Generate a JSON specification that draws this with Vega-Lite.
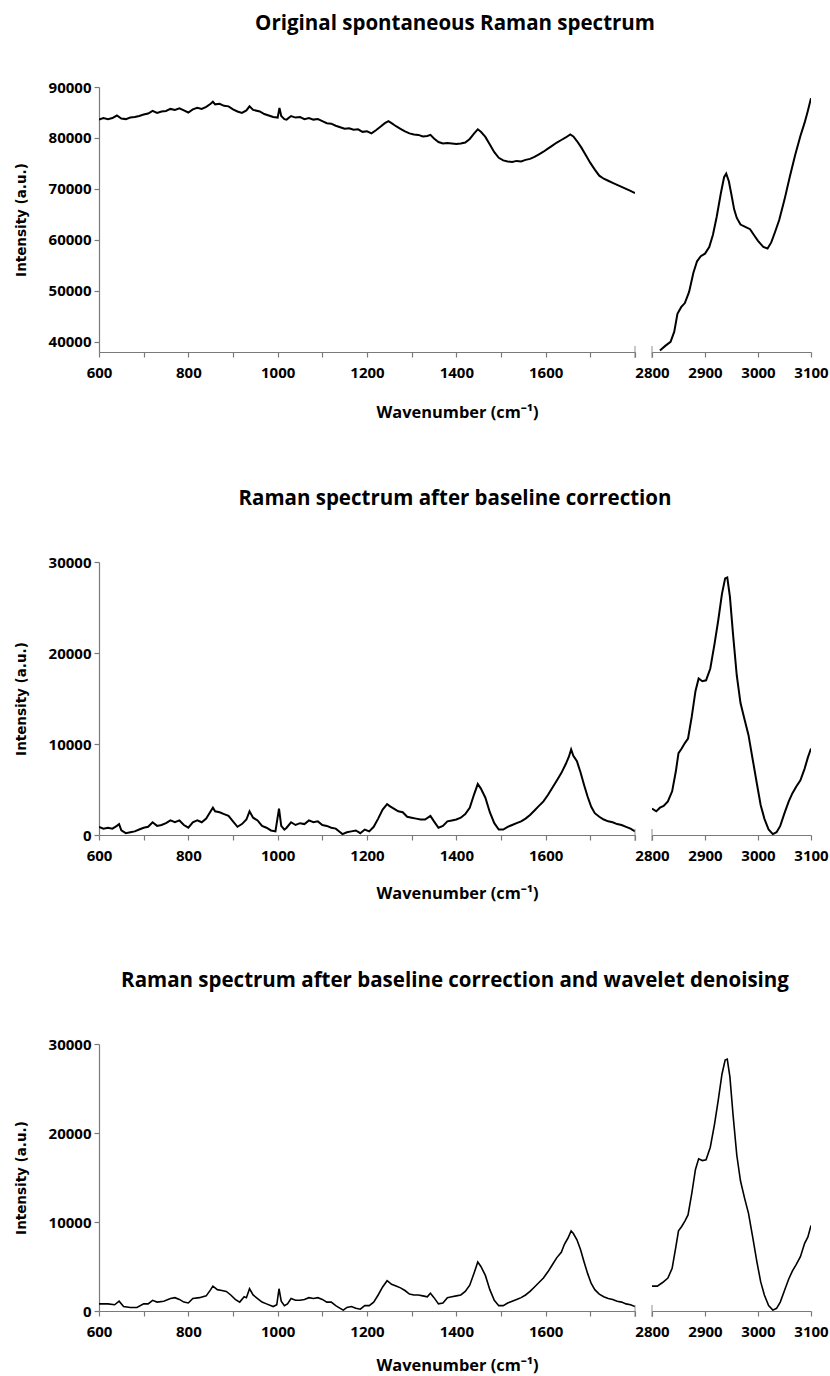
{
  "$schema": "https://vega.github.io/schema/vega-lite/v6.json",
  "padding": {"top": 13, "left": 14, "right": 0, "bottom": 0},
  "background": "white",
  "config": {
    "view": {"stroke": null},
    "font": "Open Sans",
    "axis": {"domainColor": "#7a7a7a", "tickColor": "#7a7a7a", "domainWidth": 1.2, "tickWidth": 1.2, "tickSize": 5, "labelFont": "Open Sans", "labelFontWeight": "bold", "labelFontSize": 15, "labelColor": "black", "grid": false, "titleColor": "black", "labelOverlap": false, "labelFlush": false},
    "axisX": {"titleFont": "Open Sans", "titleFontSize": 16.4, "titleFontWeight": "bold", "labelPadding": 8},
    "axisY": {"titleFont": "DejaVu Sans", "titleFontSize": 13.5, "titleFontWeight": "bold", "labelPadding": 3},
    "title": {"font": "Open Sans", "fontSize": 20.5, "fontWeight": "bold", "color": "black", "anchor": "middle", "frame": "group", "dx": 88, "offset": 46}
  },
  "datasets": {
    "p1L": [
      {"x":600,"y":83600},{"x":610,"y":83900},{"x":620,"y":83700},{"x":630,"y":83900},{"x":640,"y":84400},{"x":650,"y":83800},{"x":660,"y":83700},{"x":670,"y":84000},{"x":680,"y":84100},{"x":690,"y":84300},{"x":700,"y":84600},{"x":710,"y":84800},{"x":720,"y":85300},{"x":730,"y":84900},{"x":740,"y":85200},{"x":750,"y":85300},{"x":760,"y":85700},{"x":770,"y":85500},{"x":780,"y":85800},{"x":790,"y":85400},{"x":800,"y":85000},{"x":810,"y":85600},{"x":820,"y":85900},{"x":830,"y":85700},{"x":840,"y":86100},{"x":850,"y":86700},{"x":855,"y":87100},{"x":860,"y":86600},{"x":870,"y":86700},{"x":880,"y":86300},{"x":890,"y":86200},{"x":900,"y":85600},{"x":910,"y":85200},{"x":920,"y":84900},{"x":930,"y":85400},{"x":937,"y":86200},{"x":945,"y":85500},{"x":960,"y":85200},{"x":970,"y":84700},{"x":980,"y":84400},{"x":990,"y":84100},{"x":1000,"y":84000},{"x":1004,"y":85900},{"x":1008,"y":84300},{"x":1015,"y":83700},{"x":1020,"y":83600},{"x":1030,"y":84300},{"x":1040,"y":84000},{"x":1050,"y":84100},{"x":1060,"y":83700},{"x":1070,"y":83900},{"x":1080,"y":83600},{"x":1090,"y":83700},{"x":1100,"y":83300},{"x":1110,"y":82900},{"x":1120,"y":82800},{"x":1130,"y":82400},{"x":1140,"y":82100},{"x":1150,"y":81800},{"x":1160,"y":81900},{"x":1170,"y":81600},{"x":1180,"y":81700},{"x":1190,"y":81200},{"x":1200,"y":81300},{"x":1210,"y":80900},{"x":1220,"y":81500},{"x":1230,"y":82200},{"x":1240,"y":82900},{"x":1248,"y":83300},{"x":1255,"y":82900},{"x":1265,"y":82300},{"x":1275,"y":81800},{"x":1285,"y":81300},{"x":1295,"y":80900},{"x":1305,"y":80700},{"x":1315,"y":80600},{"x":1325,"y":80300},{"x":1335,"y":80400},{"x":1342,"y":80600},{"x":1350,"y":79900},{"x":1360,"y":79200},{"x":1370,"y":78900},{"x":1380,"y":79000},{"x":1390,"y":78900},{"x":1400,"y":78800},{"x":1410,"y":78900},{"x":1420,"y":79100},{"x":1430,"y":79800},{"x":1440,"y":80900},{"x":1448,"y":81700},{"x":1455,"y":81200},{"x":1465,"y":80200},{"x":1475,"y":78700},{"x":1485,"y":77200},{"x":1495,"y":76100},{"x":1505,"y":75600},{"x":1515,"y":75400},{"x":1525,"y":75300},{"x":1535,"y":75500},{"x":1545,"y":75400},{"x":1555,"y":75700},{"x":1565,"y":75900},{"x":1575,"y":76300},{"x":1585,"y":76800},{"x":1595,"y":77300},{"x":1605,"y":77900},{"x":1615,"y":78500},{"x":1625,"y":79100},{"x":1635,"y":79600},{"x":1645,"y":80100},{"x":1655,"y":80700},{"x":1662,"y":80300},{"x":1670,"y":79400},{"x":1680,"y":78100},{"x":1690,"y":76600},{"x":1700,"y":75100},{"x":1710,"y":73800},{"x":1720,"y":72600},{"x":1730,"y":72000},{"x":1740,"y":71600},{"x":1750,"y":71200},{"x":1760,"y":70800},{"x":1770,"y":70400},{"x":1780,"y":70000},{"x":1790,"y":69600},{"x":1800,"y":69200}
    ],
    "p1R": [
      {"x":2815,"y":38300},{"x":2825,"y":39200},{"x":2835,"y":40000},{"x":2842,"y":42000},{"x":2848,"y":45500},{"x":2855,"y":46800},{"x":2862,"y":47600},{"x":2870,"y":49800},{"x":2878,"y":53500},{"x":2885,"y":55800},{"x":2892,"y":56800},{"x":2900,"y":57300},{"x":2908,"y":58600},{"x":2915,"y":61000},{"x":2922,"y":64500},{"x":2930,"y":69200},{"x":2936,"y":72300},{"x":2940,"y":73000},{"x":2945,"y":71500},{"x":2950,"y":68800},{"x":2955,"y":66000},{"x":2960,"y":64300},{"x":2967,"y":63000},{"x":2975,"y":62600},{"x":2985,"y":62100},{"x":2992,"y":61000},{"x":3000,"y":59800},{"x":3010,"y":58600},{"x":3018,"y":58300},{"x":3025,"y":59500},{"x":3032,"y":61500},{"x":3040,"y":63900},{"x":3050,"y":67900},{"x":3060,"y":72400},{"x":3070,"y":76600},{"x":3080,"y":80400},{"x":3088,"y":83000},{"x":3094,"y":85300},{"x":3100,"y":87800}
    ],
    "p2L": [
      {"x":600,"y":900},{"x":610,"y":700},{"x":620,"y":800},{"x":630,"y":700},{"x":640,"y":1000},{"x":645,"y":1200},{"x":650,"y":500},{"x":660,"y":200},{"x":670,"y":300},{"x":680,"y":400},{"x":690,"y":600},{"x":700,"y":800},{"x":710,"y":900},{"x":720,"y":1400},{"x":730,"y":1000},{"x":740,"y":1100},{"x":750,"y":1300},{"x":760,"y":1600},{"x":770,"y":1400},{"x":780,"y":1600},{"x":790,"y":1100},{"x":800,"y":800},{"x":810,"y":1400},{"x":820,"y":1600},{"x":830,"y":1400},{"x":840,"y":1800},{"x":850,"y":2600},{"x":855,"y":3000},{"x":860,"y":2600},{"x":870,"y":2500},{"x":880,"y":2300},{"x":890,"y":2100},{"x":900,"y":1500},{"x":910,"y":900},{"x":920,"y":1200},{"x":930,"y":1700},{"x":937,"y":2600},{"x":945,"y":1900},{"x":955,"y":1600},{"x":965,"y":1000},{"x":975,"y":800},{"x":985,"y":500},{"x":995,"y":400},{"x":1003,"y":2900},{"x":1008,"y":1000},{"x":1015,"y":600},{"x":1020,"y":800},{"x":1030,"y":1400},{"x":1040,"y":1100},{"x":1050,"y":1300},{"x":1060,"y":1200},{"x":1070,"y":1600},{"x":1080,"y":1400},{"x":1090,"y":1500},{"x":1100,"y":1100},{"x":1110,"y":1000},{"x":1120,"y":800},{"x":1130,"y":700},{"x":1140,"y":300},{"x":1145,"y":100},{"x":1155,"y":300},{"x":1165,"y":400},{"x":1175,"y":500},{"x":1185,"y":200},{"x":1195,"y":600},{"x":1205,"y":400},{"x":1215,"y":900},{"x":1225,"y":1800},{"x":1235,"y":2800},{"x":1245,"y":3400},{"x":1250,"y":3200},{"x":1260,"y":2900},{"x":1270,"y":2600},{"x":1280,"y":2500},{"x":1290,"y":2000},{"x":1300,"y":1900},{"x":1310,"y":1800},{"x":1320,"y":1700},{"x":1330,"y":1700},{"x":1342,"y":2100},{"x":1350,"y":1500},{"x":1360,"y":800},{"x":1370,"y":1000},{"x":1380,"y":1500},{"x":1390,"y":1600},{"x":1400,"y":1700},{"x":1410,"y":1900},{"x":1420,"y":2300},{"x":1430,"y":3000},{"x":1440,"y":4500},{"x":1448,"y":5600},{"x":1455,"y":5100},{"x":1465,"y":4100},{"x":1475,"y":2500},{"x":1485,"y":1300},{"x":1495,"y":600},{"x":1505,"y":600},{"x":1515,"y":900},{"x":1525,"y":1100},{"x":1535,"y":1300},{"x":1545,"y":1500},{"x":1555,"y":1800},{"x":1565,"y":2200},{"x":1575,"y":2700},{"x":1585,"y":3200},{"x":1595,"y":3700},{"x":1605,"y":4400},{"x":1615,"y":5200},{"x":1625,"y":6000},{"x":1635,"y":6800},{"x":1645,"y":7800},{"x":1652,"y":8600},{"x":1657,"y":9400},{"x":1662,"y":8700},{"x":1670,"y":8100},{"x":1678,"y":6900},{"x":1686,"y":5500},{"x":1694,"y":4200},{"x":1702,"y":3100},{"x":1710,"y":2400},{"x":1720,"y":2000},{"x":1730,"y":1700},{"x":1740,"y":1500},{"x":1750,"y":1400},{"x":1760,"y":1200},{"x":1770,"y":1100},{"x":1780,"y":900},{"x":1790,"y":700},{"x":1800,"y":400}
    ],
    "p2R": [
      {"x":2800,"y":2900},{"x":2808,"y":2600},{"x":2815,"y":3000},{"x":2822,"y":3200},{"x":2830,"y":3700},{"x":2838,"y":4800},{"x":2845,"y":7000},{"x":2850,"y":9000},{"x":2856,"y":9500},{"x":2862,"y":10100},{"x":2868,"y":10600},{"x":2875,"y":13000},{"x":2882,"y":15800},{"x":2888,"y":17200},{"x":2895,"y":16900},{"x":2902,"y":17000},{"x":2910,"y":18300},{"x":2918,"y":21000},{"x":2925,"y":23600},{"x":2932,"y":26500},{"x":2938,"y":28200},{"x":2942,"y":28300},{"x":2947,"y":26200},{"x":2953,"y":22000},{"x":2960,"y":17500},{"x":2967,"y":14500},{"x":2975,"y":12600},{"x":2982,"y":11000},{"x":2990,"y":8300},{"x":2998,"y":5600},{"x":3005,"y":3300},{"x":3012,"y":1800},{"x":3020,"y":600},{"x":3028,"y":100},{"x":3035,"y":300},{"x":3042,"y":1000},{"x":3050,"y":2400},{"x":3058,"y":3700},{"x":3065,"y":4600},{"x":3072,"y":5300},{"x":3080,"y":6000},{"x":3088,"y":7300},{"x":3094,"y":8500},{"x":3100,"y":9500}
    ],
    "p3L": [
      {"x":600,"y":800},{"x":620,"y":800},{"x":635,"y":700},{"x":645,"y":1100},{"x":655,"y":500},{"x":670,"y":400},{"x":685,"y":400},{"x":700,"y":800},{"x":710,"y":800},{"x":720,"y":1200},{"x":730,"y":1000},{"x":745,"y":1100},{"x":760,"y":1400},{"x":770,"y":1500},{"x":780,"y":1300},{"x":790,"y":1000},{"x":800,"y":900},{"x":810,"y":1400},{"x":825,"y":1500},{"x":840,"y":1700},{"x":850,"y":2400},{"x":855,"y":2800},{"x":865,"y":2400},{"x":875,"y":2300},{"x":885,"y":2200},{"x":895,"y":1800},{"x":905,"y":1300},{"x":915,"y":1000},{"x":925,"y":1600},{"x":930,"y":1500},{"x":937,"y":2500},{"x":945,"y":1800},{"x":955,"y":1400},{"x":965,"y":1000},{"x":975,"y":800},{"x":990,"y":500},{"x":998,"y":700},{"x":1003,"y":2500},{"x":1008,"y":1100},{"x":1015,"y":600},{"x":1022,"y":800},{"x":1030,"y":1400},{"x":1040,"y":1200},{"x":1050,"y":1200},{"x":1060,"y":1300},{"x":1070,"y":1500},{"x":1080,"y":1400},{"x":1090,"y":1500},{"x":1100,"y":1300},{"x":1110,"y":1000},{"x":1120,"y":1000},{"x":1130,"y":600},{"x":1140,"y":300},{"x":1147,"y":100},{"x":1155,"y":400},{"x":1165,"y":500},{"x":1175,"y":300},{"x":1185,"y":200},{"x":1195,"y":600},{"x":1205,"y":600},{"x":1215,"y":1000},{"x":1225,"y":1800},{"x":1235,"y":2700},{"x":1245,"y":3400},{"x":1255,"y":3000},{"x":1265,"y":2800},{"x":1275,"y":2600},{"x":1285,"y":2300},{"x":1295,"y":1900},{"x":1305,"y":1800},{"x":1315,"y":1800},{"x":1325,"y":1700},{"x":1335,"y":1600},{"x":1342,"y":2000},{"x":1350,"y":1500},{"x":1360,"y":800},{"x":1370,"y":900},{"x":1380,"y":1500},{"x":1390,"y":1600},{"x":1400,"y":1700},{"x":1410,"y":1800},{"x":1420,"y":2200},{"x":1430,"y":2900},{"x":1440,"y":4300},{"x":1448,"y":5500},{"x":1455,"y":5000},{"x":1465,"y":4000},{"x":1475,"y":2400},{"x":1485,"y":1200},{"x":1495,"y":600},{"x":1505,"y":600},{"x":1515,"y":900},{"x":1525,"y":1100},{"x":1535,"y":1300},{"x":1545,"y":1500},{"x":1555,"y":1800},{"x":1565,"y":2200},{"x":1575,"y":2700},{"x":1585,"y":3200},{"x":1595,"y":3700},{"x":1605,"y":4400},{"x":1615,"y":5200},{"x":1625,"y":6000},{"x":1635,"y":6600},{"x":1642,"y":7500},{"x":1650,"y":8200},{"x":1657,"y":9000},{"x":1662,"y":8700},{"x":1670,"y":8000},{"x":1678,"y":6900},{"x":1686,"y":5500},{"x":1694,"y":4200},{"x":1702,"y":3100},{"x":1710,"y":2400},{"x":1720,"y":1900},{"x":1730,"y":1600},{"x":1740,"y":1400},{"x":1750,"y":1300},{"x":1760,"y":1100},{"x":1770,"y":1000},{"x":1780,"y":800},{"x":1790,"y":700},{"x":1800,"y":500}
    ],
    "p3R": [
      {"x":2800,"y":2800},{"x":2810,"y":2800},{"x":2820,"y":3200},{"x":2830,"y":3700},{"x":2838,"y":4800},{"x":2845,"y":7200},{"x":2850,"y":9000},{"x":2856,"y":9500},{"x":2862,"y":10100},{"x":2868,"y":10800},{"x":2875,"y":13200},{"x":2882,"y":15900},{"x":2888,"y":17100},{"x":2895,"y":16900},{"x":2902,"y":17000},{"x":2910,"y":18400},{"x":2918,"y":21000},{"x":2925,"y":23700},{"x":2932,"y":26600},{"x":2938,"y":28200},{"x":2942,"y":28300},{"x":2947,"y":26300},{"x":2953,"y":22000},{"x":2960,"y":17500},{"x":2967,"y":14600},{"x":2975,"y":12600},{"x":2982,"y":11000},{"x":2990,"y":8300},{"x":2998,"y":5500},{"x":3005,"y":3300},{"x":3012,"y":1800},{"x":3020,"y":600},{"x":3028,"y":100},{"x":3035,"y":300},{"x":3042,"y":1000},{"x":3050,"y":2300},{"x":3058,"y":3600},{"x":3065,"y":4500},{"x":3072,"y":5200},{"x":3080,"y":6100},{"x":3088,"y":7600},{"x":3094,"y":8300},{"x":3100,"y":9600}
    ]
  },
  "spacing": 475,
  "bounds": "flush",
  "vconcat": [
    {
      "spacing": 17,
      "bounds": "flush",
      "hconcat": [
        {
          "width": 536, "height": 265,
          "title": {"text": "Original spontaneous Raman spectrum"},
          "layer": [
            {
              "data": {"name": "p1L"},
              "mark": {"type": "line", "color": "black", "strokeWidth": 2, "clip": true},
              "encoding": {
                "x": {"field": "x", "type": "quantitative", "title": "Wavenumber (cm⁻¹)", "scale": {"domain": [600, 1800], "nice": false, "zero": false},
                  "axis": {"values": [600,650,700,750,800,850,900,950,1000,1050,1100,1150,1200,1250,1300,1350,1400,1450,1500,1550,1600,1650,1700,1750,1800], "format": "d", "labelExpr": "datum.value % 200 == 0 && datum.value < 1800 ? datum.label : ''", "titleX": 358, "titlePadding": 24}},
                "y": {"field": "y", "type": "quantitative", "title": "Intensity (a.u.)", "scale": {"domain": [38000, 90000], "nice": false, "zero": false},
                  "axis": {"values": [40000,50000,60000,70000,80000,90000], "format": "d", "titlePadding": 20}}
              }
            },
            {
              "data": {"values": [{"x": 1800, "y": 38000}]},
              "mark": {"type": "tick", "orient": "vertical", "color": "#7a7a7a", "size": 12, "thickness": 1.2},
              "encoding": {
                "x": {"field": "x", "type": "quantitative", "title": "Wavenumber (cm⁻¹)"},
                "y": {"field": "y", "type": "quantitative", "title": "Intensity (a.u.)"}
              }
            }
          ]
        },
        {
          "width": 159, "height": 265,
          "layer": [
            {
              "data": {"name": "p1R"},
              "mark": {"type": "line", "color": "black", "strokeWidth": 2, "clip": true},
              "encoding": {
                "x": {"field": "x", "type": "quantitative", "title": null, "scale": {"domain": [2800, 3100], "nice": false, "zero": false},
                  "axis": {"values": [2800,2850,2900,2950,3000,3050,3100], "format": "d", "labelExpr": "datum.value % 100 == 0 ? datum.label : ''"}},
                "y": {"field": "y", "type": "quantitative", "scale": {"domain": [38000, 90000], "nice": false, "zero": false}, "axis": null}
              }
            },
            {
              "data": {"values": [{"x": 2800, "y": 38000}]},
              "mark": {"type": "tick", "orient": "vertical", "color": "#7a7a7a", "size": 12, "thickness": 1.2},
              "encoding": {
                "x": {"field": "x", "type": "quantitative", "title": null},
                "y": {"field": "y", "type": "quantitative", "axis": null}
              }
            }
          ]
        }
      ]
    },
    {
      "spacing": 482,
      "bounds": "flush",
      "vconcat": [
        {
          "spacing": 17,
          "bounds": "flush",
          "hconcat": [
            {
              "width": 536, "height": 273,
              "title": {"text": "Raman spectrum after baseline correction"},
              "layer": [
                {
                  "data": {"name": "p2L"},
                  "mark": {"type": "line", "color": "black", "strokeWidth": 2, "clip": true},
                  "encoding": {
                    "x": {"field": "x", "type": "quantitative", "title": "Wavenumber (cm⁻¹)", "scale": {"domain": [600, 1800], "nice": false, "zero": false},
                      "axis": {"values": [600,650,700,750,800,850,900,950,1000,1050,1100,1150,1200,1250,1300,1350,1400,1450,1500,1550,1600,1650,1700,1750,1800], "format": "d", "labelExpr": "datum.value % 200 == 0 && datum.value < 1800 ? datum.label : ''", "titleX": 358, "titlePadding": 22}},
                    "y": {"field": "y", "type": "quantitative", "title": "Intensity (a.u.)", "scale": {"domain": [0, 30000], "nice": false},
                      "axis": {"values": [0,10000,20000,30000], "format": "d", "titlePadding": 20}}
                  }
                },
                {
                  "data": {"values": [{"x": 1800, "y": 0}]},
                  "mark": {"type": "tick", "orient": "vertical", "color": "#7a7a7a", "size": 12, "thickness": 1.2},
                  "encoding": {
                    "x": {"field": "x", "type": "quantitative", "title": "Wavenumber (cm⁻¹)"},
                    "y": {"field": "y", "type": "quantitative", "title": "Intensity (a.u.)"}
                  }
                }
              ]
            },
            {
              "width": 159, "height": 273,
              "layer": [
                {
                  "data": {"name": "p2R"},
                  "mark": {"type": "line", "color": "black", "strokeWidth": 2, "clip": true},
                  "encoding": {
                    "x": {"field": "x", "type": "quantitative", "title": null, "scale": {"domain": [2800, 3100], "nice": false, "zero": false},
                      "axis": {"values": [2800,2850,2900,2950,3000,3050,3100], "format": "d", "labelExpr": "datum.value % 100 == 0 ? datum.label : ''"}},
                    "y": {"field": "y", "type": "quantitative", "scale": {"domain": [0, 30000], "nice": false}, "axis": null}
                  }
                },
                {
                  "data": {"values": [{"x": 2800, "y": 0}]},
                  "mark": {"type": "tick", "orient": "vertical", "color": "#7a7a7a", "size": 12, "thickness": 1.2},
                  "encoding": {
                    "x": {"field": "x", "type": "quantitative", "title": null},
                    "y": {"field": "y", "type": "quantitative", "axis": null}
                  }
                }
              ]
            }
          ]
        },
        {
          "spacing": 17,
          "bounds": "flush",
          "hconcat": [
            {
              "width": 536, "height": 267,
              "title": {"text": "Raman spectrum after baseline correction and wavelet denoising"},
              "layer": [
                {
                  "data": {"name": "p3L"},
                  "mark": {"type": "line", "color": "black", "strokeWidth": 1.6, "clip": true},
                  "encoding": {
                    "x": {"field": "x", "type": "quantitative", "title": "Wavenumber (cm⁻¹)", "scale": {"domain": [600, 1800], "nice": false, "zero": false},
                      "axis": {"values": [600,650,700,750,800,850,900,950,1000,1050,1100,1150,1200,1250,1300,1350,1400,1450,1500,1550,1600,1650,1700,1750,1800], "format": "d", "labelExpr": "datum.value % 200 == 0 && datum.value < 1800 ? datum.label : ''", "titleX": 358, "titlePadding": 18}},
                    "y": {"field": "y", "type": "quantitative", "title": "Intensity (a.u.)", "scale": {"domain": [0, 30000], "nice": false},
                      "axis": {"values": [0,10000,20000,30000], "format": "d", "titlePadding": 20}}
                  }
                },
                {
                  "data": {"values": [{"x": 1800, "y": 0}]},
                  "mark": {"type": "tick", "orient": "vertical", "color": "#7a7a7a", "size": 12, "thickness": 1.2},
                  "encoding": {
                    "x": {"field": "x", "type": "quantitative", "title": "Wavenumber (cm⁻¹)"},
                    "y": {"field": "y", "type": "quantitative", "title": "Intensity (a.u.)"}
                  }
                }
              ]
            },
            {
              "width": 159, "height": 267,
              "layer": [
                {
                  "data": {"name": "p3R"},
                  "mark": {"type": "line", "color": "black", "strokeWidth": 1.6, "clip": true},
                  "encoding": {
                    "x": {"field": "x", "type": "quantitative", "title": null, "scale": {"domain": [2800, 3100], "nice": false, "zero": false},
                      "axis": {"values": [2800,2850,2900,2950,3000,3050,3100], "format": "d", "labelExpr": "datum.value % 100 == 0 ? datum.label : ''"}},
                    "y": {"field": "y", "type": "quantitative", "scale": {"domain": [0, 30000], "nice": false}, "axis": null}
                  }
                },
                {
                  "data": {"values": [{"x": 2800, "y": 0}]},
                  "mark": {"type": "tick", "orient": "vertical", "color": "#7a7a7a", "size": 12, "thickness": 1.2},
                  "encoding": {
                    "x": {"field": "x", "type": "quantitative", "title": null},
                    "y": {"field": "y", "type": "quantitative", "axis": null}
                  }
                }
              ]
            }
          ]
        }
      ]
    }
  ]
}
